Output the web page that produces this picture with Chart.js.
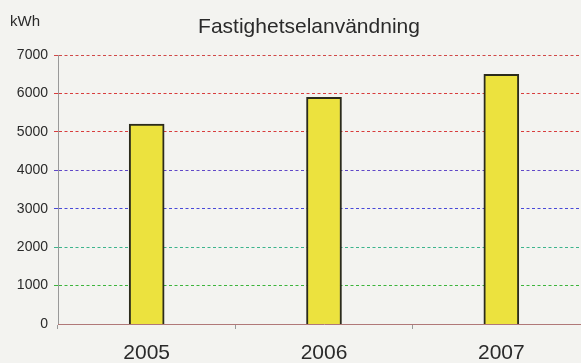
<!DOCTYPE html>
<html>
<head>
<meta charset="utf-8">
<script src="https://cdn.jsdelivr.net/npm/chart.js@4/dist/chart.umd.min.js"></script>
<style>
  html, body { margin: 0; padding: 0; overflow: hidden; background: #f3f3f0; }
  #wrap { width: 590px; height: 363px; }
</style>
</head>
<body>
<div id="wrap"><canvas id="chart" width="590" height="363"></canvas></div>
<script>
const years = ['2005', '2006', '2007'];
const usage = [5200, 5900, 6500];
const yTicks = [0, 1000, 2000, 3000, 4000, 5000, 6000, 7000];
const gridColors = ['#c06060', '#3cb43c', '#3cb48c', '#4848d8', '#6048c8', '#d83c3c', '#d83c3c', '#d04848'];

const FONT = '"Liberation Sans", Arial, sans-serif';

// titel + enhet ritas direkt på canvas
const textPlugin = {
    id: 'texter',
    afterDraw(chart) {
        const ctx = chart.ctx;
        ctx.save();
        ctx.fillStyle = '#2a2a2a';
        ctx.font = '21px ' + FONT;
        ctx.textAlign = 'center';
        ctx.textBaseline = 'alphabetic';
        ctx.fillText('Fastighetselanvändning', 309, 33);
        ctx.font = '15px ' + FONT;
        ctx.textAlign = 'left';
        ctx.fillText('kWh', 10, 26);
        ctx.restore();
    }
};

new Chart(document.getElementById('chart').getContext('2d'), {
    type: 'bar',
    data: {
        labels: years,
        datasets: [{
            data: usage,
            backgroundColor: '#ece23e',
            borderColor: '#2b2b1c',
            borderWidth: 2,
            barThickness: 35
        }]
    },
    options: {
        responsive: false,
        animation: false,
        layout: { padding: { top: 55, left: 0, right: 0, bottom: 0 } },
        plugins: { legend: { display: false }, title: { display: false }, tooltip: { enabled: false } },
        scales: {
            x: {
                offset: true,
                afterFit: s => { s.height = 39; },
                grid: { offset: true, drawOnChartArea: false, drawTicks: true, tickLength: 5, color: '#999' },
                border: { color: '#b07878', width: 1 },
                ticks: { color: '#2a2a2a', font: { family: FONT, size: 21 }, padding: 12 }
            },
            y: {
                min: 0,
                max: 7000,
                afterFit: s => { s.width = 58; },
                afterBuildTicks: s => { s.ticks = yTicks.map(v => ({ value: v })); },
                grid: {
                    color: c => gridColors[c.index],
                    tickColor: c => gridColors[c.index],
                    tickLength: 4,
                    lineWidth: c => c.index === 0 ? 0 : 1,
                },
                border: { color: '#999', width: 1, dash: [3, 2.5] },
                ticks: {
                    color: '#2a2a2a',
                    font: { family: FONT, size: 14 },
                    padding: 6,
                    callback: v => String(v)
                }
            }
        }
    },
    plugins: [textPlugin]
});
</script>
</body>
</html>
